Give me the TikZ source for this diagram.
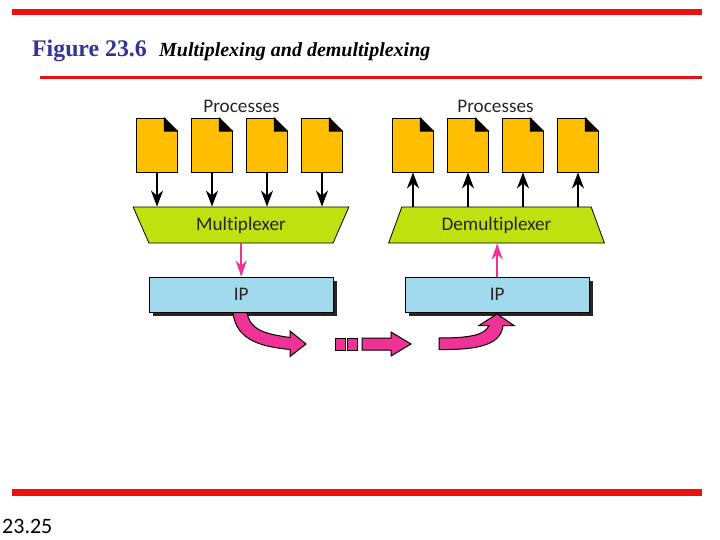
\documentclass[tikz,border=0pt]{standalone}
\usepackage{fontspec}
\setmainfont{Liberation Serif}
\newfontfamily\lblfont[Ligatures=NoCommon]{Carlito}
\usetikzlibrary{arrows.meta,shapes.geometric,calc}
\definecolor{barred}{RGB}{236,16,16}
\definecolor{titleblue}{RGB}{51,51,153}
\definecolor{filey}{RGB}{255,190,0}
\definecolor{muxg}{RGB}{190,225,15}
\definecolor{ipb}{RGB}{160,218,236}
\definecolor{pinkc}{RGB}{238,50,150}
\tikzset{
  x=1pt,y=-1pt,
  redbar/.style={fill=barred,draw=none},
  filebox/.style={rectangle,draw=black,line width=0.8pt,fill=filey,minimum width=41pt,minimum height=54pt,inner sep=0pt},
  lbl/.style={font=\lblfont\fontsize{19.2}{22}\selectfont,text=black!85,inner sep=0pt},
  muxbox/.style={lbl,trapezium,draw=black,line width=0.8pt,fill=muxg,trapezium stretches=true,trapezium left angle=65,trapezium right angle=65,minimum width=216pt,minimum height=36pt},
  ipbox/.style={lbl,rectangle,draw=black,line width=0.8pt,fill=ipb,minimum width=183.5pt,minimum height=35pt},
  blk/.style={line width=2pt,-{Stealth[length=16pt,width=12pt,inset=5pt]}},
  pnk/.style={pinkc,line width=1.5pt,-{Stealth[length=16pt,width=11pt,inset=5pt]}},
  block/.style={fill=pinkc,draw=black,line width=1pt,line join=miter},
  sq/.style={rectangle,fill=pinkc,draw=black,line width=0.8pt,inner sep=0pt,minimum height=12pt},
}
\newcommand{\filefold}[1]{%
  \fill[white] ($(#1.north east)+(-14,-1)$) -- ($(#1.north east)+(1,-1)$) -- ($(#1.north east)+(1,14)$) -- cycle;
  \fill[black] ($(#1.north east)+(-14,0)$) -- ($(#1.north east)+(0,14)$) -- ($(#1.north east)+(-14,14)$) -- cycle;
  \draw[line width=0.8pt] ($(#1.north east)+(-14,0)$) -- ($(#1.north east)+(0,14)$);
}
\begin{document}
\begin{tikzpicture}
\useasboundingbox (0,0) rectangle (720,540);
\fill[white] (0,0) rectangle (720,540);
% frame
\path[redbar] (12,9) rectangle (702,15.5);
\path[redbar] (40,76.5) rectangle (702,79);
\path[redbar] (12,489) rectangle (702,495.5);
\node[anchor=base west,inner sep=0pt,text=titleblue,font=\bfseries\fontsize{23.8}{25}\selectfont] (fig) at (32,57) {Figure 23.6};
\node[anchor=base west,inner sep=0pt,font=\bfseries\itshape\fontsize{20}{21}\selectfont] (cap) at (159,57) {Multiplexing and demultiplexing};
\node[anchor=base west,inner sep=0pt,font=\lblfont\fontsize{22}{26}\selectfont] (pg) at (2,533) {23.25};
% labels
\node[lbl] (pl) at (241.5,106) {Processes};
\node[lbl] (pr) at (495.5,106) {Processes};
% files
\node[filebox] (f1) at (157,145) {};
\node[filebox] (f2) at (212,145) {};
\node[filebox] (f3) at (267,145) {};
\node[filebox] (f4) at (322,145) {};
\node[filebox] (g1) at (413,145) {};
\node[filebox] (g2) at (468,145) {};
\node[filebox] (g3) at (523,145) {};
\node[filebox] (g4) at (578,145) {};
\filefold{f1}\filefold{f2}\filefold{f3}\filefold{f4}
\filefold{g1}\filefold{g2}\filefold{g3}\filefold{g4}
% mux / demux
\node[muxbox,shape border rotate=180] (mux) at (241,225) {Multiplexer};
\node[muxbox] (dem) at (496.5,225) {Demultiplexer};
% IP
\fill[black!85] (153,281) rectangle (337,316);
\fill[black!85] (409,281) rectangle (593,316);
\node[ipbox] (ipl) at (241.2,294.5) {IP};
\node[ipbox] (ipr) at (497.2,294.5) {IP};
% arrows
\foreach \n in {f1,f2,f3,f4} \draw[blk] (\n.south) -- (\n.south |- mux.north);
\foreach \n in {g1,g2,g3,g4} \draw[blk] (\n.south |- dem.north) -- (\n.south);
\draw[pnk] (mux.south -| ipl.north) -- (ipl.north);
\draw[pnk] (ipr.north) -- (ipr.north |- dem.south);
% block arrows
\path[block] (233,312.5) .. controls (236,342) and (265,347) .. (290,349.5) -- (290,356.5) -- (306,344) -- (290,331) -- (290,337.5) .. controls (265,334) and (250,330) .. (247,312.5) -- cycle;
\node[sq,minimum width=10pt] (s1) at (340,344) {};
\node[sq,minimum width=10pt] (s2) at (352.5,344) {};
\path[block] (362,338) -- (391,338) -- (391,332) -- (411,344) -- (391,356) -- (391,350) -- (362,350) -- cycle;
\path[block] (439,338) -- (439,349.5) .. controls (478,350) and (501,345) .. (503,325.5) -- (514,325.5) -- (497,314) -- (479,325.5) -- (489,325.5) .. controls (485,335) and (470,338) .. (439,338) -- cycle;
\end{tikzpicture}
\end{document}
